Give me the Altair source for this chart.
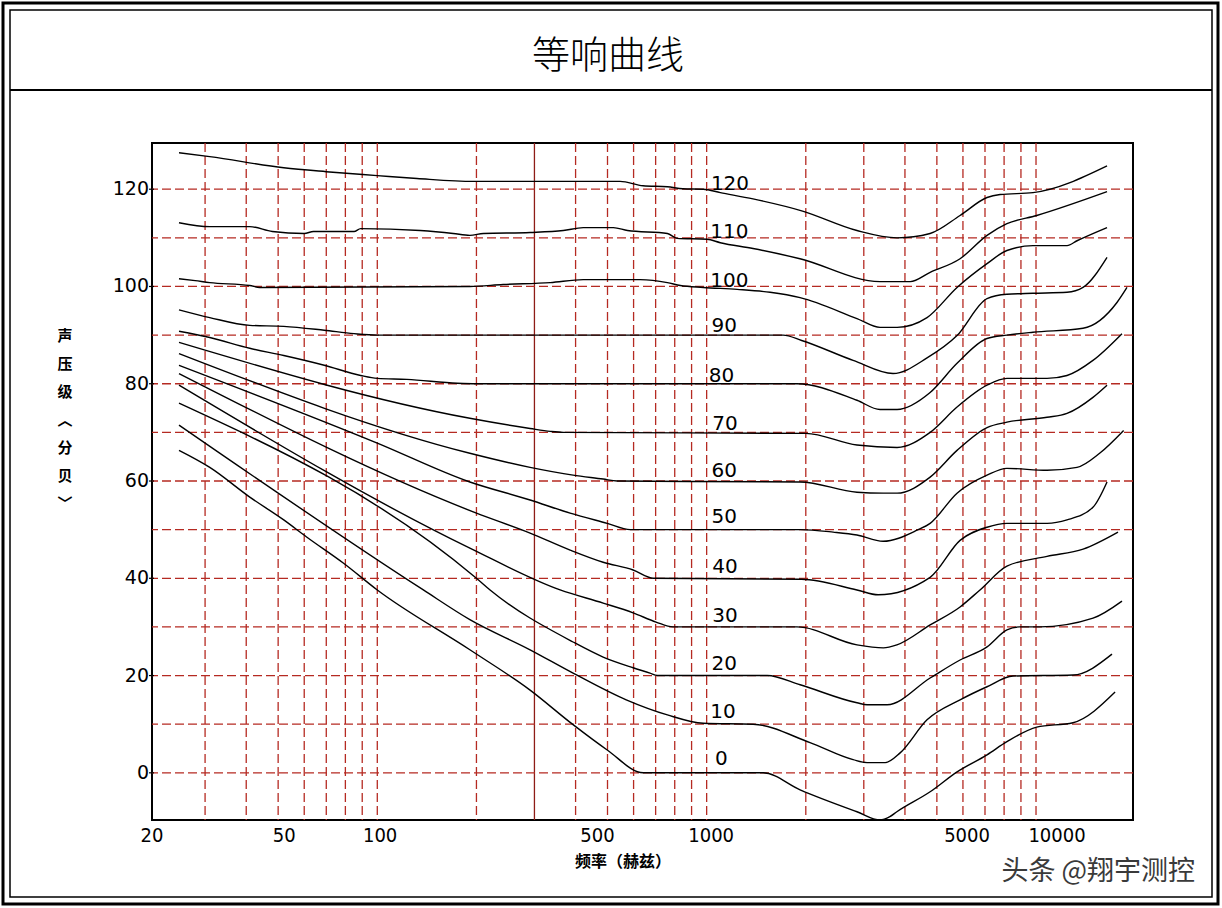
import altair as alt
import pandas as pd

# ---------------- data (frequency in Hz, sound pressure level in dB) ----------------
levels = [0, 10, 20, 30, 40, 50, 60, 70, 80, 90, 100, 110, 120]

c0_f = [25, 31, 41, 52, 61, 79, 100, 191, 291, 393, 499, 642, 1484, 1922, 2860, 3360, 3600, 3780, 4770, 5760, 7100, 8160, 10050, 12950, 17380]
c0_db = [66.3, 62.8, 56.7, 52, 48.5, 43.1, 37.6, 25.3, 17, 9.9, 4.7, 0, 0, -3.5, -8, -9.7, -9, -8, -3.9, 0.2, 3.7, 6.4, 9.4, 10.3, 16.6]

c10_f = [25, 138, 191, 291, 393, 570, 760, 977, 1384, 2060, 2784, 3070, 3485, 3867, 4668, 5880, 7100, 8515, 12950, 17010]
c10_db = [71.5, 37.6, 31.5, 25.3, 20.5, 15, 11.9, 10.2, 10, 6.2, 2.7, 2.1, 2.1, 4.1, 10.9, 15, 17.7, 19.9, 20.1, 24.4]

c20_f = [25, 200, 220, 393, 485, 598, 673, 708, 1527, 1922, 2860, 3070, 3530, 4770, 5880, 7100, 8160, 8900, 10250, 14900, 18240]
c20_db = [76, 40, 37.6, 26.9, 23.8, 21.6, 20.5, 20, 20, 18.1, 14.4, 14, 14, 19.5, 23.2, 25.9, 29.4, 30, 30, 31.8, 35.3]

c30_f = [25, 191, 359, 485, 598, 702, 791, 1880, 2860, 3440, 3780, 4770, 5880, 6760, 8160, 10800, 13900, 17740]
c30_db = [79.7, 46.2, 37.6, 34.9, 32.9, 31, 30, 30, 26.3, 25.7, 26.3, 30.4, 34.1, 37.6, 42.5, 44.5, 46, 49.5]

c40_f = [25, 200, 291, 385, 485, 598, 689, 1943, 2860, 3316, 4770, 5880, 7100, 8160, 10800, 12420, 14890, 16430]
c40_db = [82.1, 53.4, 49.3, 45.8, 43.3, 41.7, 40, 39.8, 37.6, 36.6, 40.2, 47.8, 50.5, 51.3, 51.3, 52, 54.6, 59.8]

c50_f = [25, 100, 191, 291, 385, 499, 586, 1922, 2421, 2860, 3434, 4355, 4770, 5757, 7100, 8160, 10800, 13320, 15600, 18450]
c50_db = [83.8, 67.8, 59.8, 56.1, 53.4, 51.3, 50, 50, 49.5, 48.9, 47.6, 49.9, 51.3, 57.5, 61.2, 62.6, 62.2, 62.8, 65.7, 70.4]

c60_f = [25, 191, 291, 393, 485, 535, 1922, 2860, 3434, 3786, 4770, 5757, 7100, 8160, 10800, 12420, 14890, 16430]
c60_db = [86.2, 65.7, 62.8, 61.2, 60.4, 60, 59.8, 57.7, 57.5, 57.5, 60.8, 66.3, 71, 72.1, 73.1, 73.9, 77.2, 79.7]

c70_f = [25, 191, 291, 335, 367, 2000, 2860, 3786, 4770, 5757, 7100, 8160, 10800, 12420, 14890, 18240]
c70_db = [88.5, 72.9, 70.8, 70.2, 70, 69.8, 67.4, 66.9, 70, 75.2, 79.7, 81.1, 81.1, 81.7, 84.8, 90.3]

c80_f = [25, 31, 41, 52, 69, 89, 100, 123, 175, 200, 1880, 2860, 3360, 3786, 4770, 5757, 7100, 8160, 9790, 13890, 17610, 18890]
c80_db = [90.8, 89.5, 87.3, 85.8, 83.8, 81.7, 81.1, 80.9, 80.1, 80, 80, 76.6, 74.7, 74.7, 78.2, 84.2, 89.3, 90, 90.6, 91.4, 96.7, 99.8]

c90_f = [25, 31, 41, 52, 69, 85, 100, 1706, 1943, 2784, 3680, 4668, 5757, 7100, 8160, 9790, 12420, 13890, 16430]
c90_db = [95.2, 93.6, 92, 91.8, 91, 90.3, 90, 90, 88.9, 84.8, 82.1, 85.3, 89.9, 97.5, 98.4, 98.6, 98.8, 99.8, 106]

c100_f = [25, 28, 31, 41, 44, 191, 241, 335, 422, 628, 760, 832, 977, 1238, 1558, 1922, 2860, 3360, 3786, 4668, 5757, 7100, 8160, 9790, 12420, 13320, 16430]
c100_db = [101.6, 101.2, 100.8, 100.2, 99.8, 100, 100.4, 100.8, 101.4, 101.4, 100.8, 100.2, 99.8, 99.4, 98.8, 97.7, 93.4, 91.6, 91.6, 93.6, 99.8, 104.7, 107.4, 108.4, 108.4, 109.4, 112.1]

c110_f = [25, 31, 41, 48, 60, 64, 85, 89, 135, 170, 191, 210, 291, 367, 422, 521, 575, 760, 813, 1003, 1100, 1383, 1920, 3360, 4150, 4770, 5880, 7100, 8160, 10050, 16430]
c110_db = [113.1, 112.3, 112.3, 111.3, 110.9, 111.3, 111.3, 111.9, 111.5, 110.9, 110.5, 110.9, 111.1, 111.5, 112.1, 112.1, 111.5, 110.9, 109.9, 109.7, 109, 107.8, 105.7, 101, 101, 102.9, 105.7, 110.5, 112.9, 114.6, 119.5]

c120_f = [25, 31, 52, 70, 100, 132, 196, 546, 641, 760, 847, 977, 1100, 1383, 1955, 2860, 3786, 4770, 5880, 7100, 7780, 9790, 16430]
c120_db = [127.5, 126.7, 124.4, 123.6, 122.8, 122.2, 121.6, 121.6, 120.7, 120.5, 120.1, 120, 119.3, 118, 115.5, 111.5, 110, 110.9, 114.6, 118.3, 118.9, 119.3, 124.8]

# curve labels
label_text = ["0", "10", "20", "30", "40", "50", "60", "70", "80", "90", "100", "110", "120"]
label_f = [1060, 1025, 1035, 1040, 1040, 1035, 1035, 1040, 1015, 1035, 1025, 1025, 1030]
label_db = [1.6, 11.3, 21.1, 31, 41, 51.3, 60.8, 70.4, 80.3, 90.6, 99.8, 109.9, 119.8]

# grid and tick labels (label positions as they sit in the reference, in Hz)
grid_v_dashed = [30, 40, 50, 60, 70, 80, 90, 100, 200, 400, 500, 600, 700, 800, 900, 1000,
                 2000, 3000, 4000, 5000, 6000, 7000, 8000, 9000, 10000]
grid_v_solid = [300]
grid_h = [0, 10, 20, 30, 40, 50, 60, 70, 80, 90, 100, 110, 120]
x_label_pos = [20.7, 52.2, 102, 466, 1032, 6175, 11580]
x_tick_text = ["20", "50", "100", "500", "1000", "5000", "10000"]
y_tick_values = [0, 20, 40, 60, 80, 100, 120]
y_tick_text = ["0", "20", "40", "60", "80", "100", "120"]

title_text = "等响曲线"
x_title = "频率（赫兹）"
y_title = ["声", "压", "级", "︿", "分", "贝", "﹀"]
watermark = "头条 @翔宇测控"

# ---------------- build tables ----------------
curve_f = [c0_f, c10_f, c20_f, c30_f, c40_f, c50_f, c60_f, c70_f, c80_f, c90_f, c100_f, c110_f, c120_f]
curve_db = [c0_db, c10_db, c20_db, c30_db, c40_db, c50_db, c60_db, c70_db, c80_db, c90_db, c100_db, c110_db, c120_db]
rows = []
for lvl, fs, ds in zip(levels, curve_f, curve_db):
    for i, (f, d) in enumerate(zip(fs, ds)):
        rows.append({"level": lvl, "i": i, "f": f, "db": d})
curves_df = pd.DataFrame(rows)
labels_df = pd.DataFrame({"t": label_text, "f": label_f, "db": label_db})
xt_df = pd.DataFrame({"v": x_label_pos, "t": x_tick_text})
yt_df = pd.DataFrame({"v": y_tick_values, "t": y_tick_text})
one = pd.DataFrame({"k": [0]})

CJK = "Noto Sans CJK SC"
NUM = "DejaVu Sans"
NUMC = "Liberation Sans Narrow, DejaVu Sans Condensed, DejaVu Sans"
GRID = "#b52a22"

xs = alt.Scale(type="log", domain=[20.7, 19700], nice=False)
ys = alt.Scale(domain=[-9.7, 129.5], nice=False, zero=False)

vgrid = alt.Chart(pd.DataFrame({"f": grid_v_dashed})).mark_rule(
    color=GRID, strokeWidth=1.3, strokeDash=[9, 4]
).encode(x=alt.X("f:Q", scale=xs, axis=None))

vsolid = alt.Chart(pd.DataFrame({"f": grid_v_solid})).mark_rule(
    color="#8e1c16", strokeWidth=1.3
).encode(x=alt.X("f:Q", scale=xs, axis=None))

hgrid = alt.Chart(pd.DataFrame({"v": grid_h})).mark_rule(
    color=GRID, strokeWidth=1.3, strokeDash=[9, 4]
).encode(y=alt.Y("v:Q", scale=ys, axis=None))

curves = alt.Chart(curves_df).mark_line(
    color="black", strokeWidth=1.4, interpolate="monotone"
).encode(
    x=alt.X("f:Q", scale=xs, axis=None),
    y=alt.Y("db:Q", scale=ys, axis=None),
    detail="level:N",
    order="i:Q",
)

curve_labels = alt.Chart(labels_df).mark_text(
    align="left", baseline="alphabetic", fontSize=20, font=NUM, color="black"
).encode(
    x=alt.X("f:Q", scale=xs, axis=None),
    y=alt.Y("db:Q", scale=ys, axis=None),
    text="t:N",
)

# tick labels and ticks (through the scales)
x_labels = alt.Chart(xt_df).mark_text(
    align="center", baseline="top", fontSize=20, font=NUMC, color="black"
).encode(x=alt.X("v:Q", scale=xs, axis=None), y=alt.value(683), text="t:N")

y_labels = alt.Chart(yt_df).mark_text(
    align="right", baseline="middle", fontSize=19, font=NUM, color="black"
).encode(y=alt.Y("v:Q", scale=ys, axis=None), x=alt.value(-3), text="t:N")

y_ticks = alt.Chart(yt_df).mark_rule(color="black", strokeWidth=1.2).encode(
    y=alt.Y("v:Q", scale=ys, axis=None), x=alt.value(-3), x2=alt.value(2))

x_title_mark = alt.Chart(one).mark_text(
    text=x_title, font=CJK, fontSize=16, fontWeight="bold", color="black",
    align="center", baseline="middle"
).encode(x=alt.value(471), y=alt.value(719))

y_title_mark = alt.Chart(one).mark_text(
    text=y_title, font=CJK, fontSize=15, fontWeight="bold", color="black",
    align="center", baseline="middle", lineHeight=28
).encode(x=alt.value(-87), y=alt.value(193))

# frame
outer = alt.Chart(one).mark_rect(fill="transparent", stroke="black", strokeWidth=3).encode(
    x=alt.value(-149), x2=alt.value(1066), y=alt.value(-140), y2=alt.value(761))
inner = alt.Chart(one).mark_rect(fill="transparent", stroke="black", strokeWidth=1.5).encode(
    x=alt.value(-142), x2=alt.value(1060), y=alt.value(-133), y2=alt.value(754))
sep = alt.Chart(one).mark_rule(color="black", strokeWidth=2).encode(
    x=alt.value(-142), x2=alt.value(1060), y=alt.value(-53))

title = alt.Chart(one).mark_text(
    text=title_text, font=CJK, fontSize=38, fontWeight=300, color="black",
    align="center", baseline="middle"
).encode(x=alt.value(456), y=alt.value(-86))

wm = alt.Chart(one).mark_text(
    text=watermark, font=CJK, fontSize=27, color="#3a3a3a", align="right", baseline="middle"
).encode(x=alt.value(1043), y=alt.value(729))

chart = alt.layer(
    vgrid, vsolid, hgrid, curves, curve_labels, x_labels, y_labels, y_ticks,
    x_title_mark, y_title_mark, outer, inner, sep, title, wm
).properties(
    width=981, height=677,
    padding={"left": 152, "top": 143, "right": 89, "bottom": 88},
    autosize=alt.AutoSizeParams(type="none"),
    background="white",
).configure_view(stroke="black", strokeWidth=2)

chart.save("out.html", embed_options={"renderer": "svg", "actions": False})
